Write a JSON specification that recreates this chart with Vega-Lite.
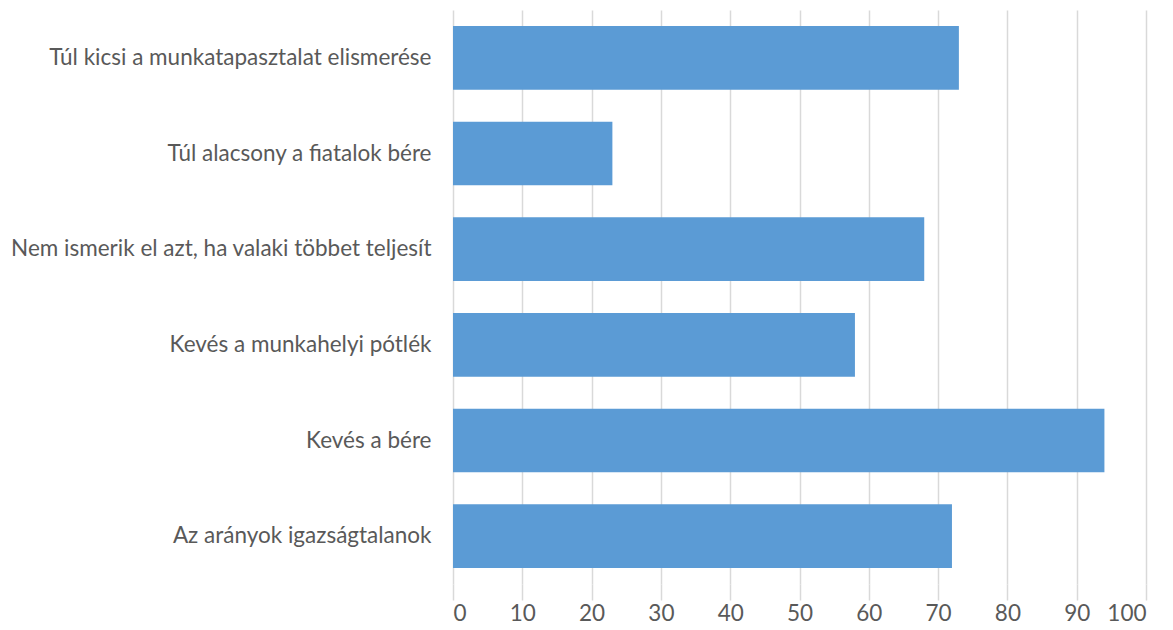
{
  "$schema": "https://vega.github.io/schema/vega-lite/v6.json",
  "width": 693,
  "height": 574,
  "padding": {"left": 453, "top": 10, "right": 27, "bottom": 46},
  "autosize": {"type": "none"},
  "background": "white",
  "config": {"view": {"stroke": null}, "font": "Lato"},
  "data": {"values": [
    {"kategoria": "Túl kicsi a munkatapasztalat elismerése", "ertek": 73},
    {"kategoria": "Túl alacsony a fiatalok bére", "ertek": 23},
    {"kategoria": "Nem ismerik el azt, ha valaki többet teljesít", "ertek": 68},
    {"kategoria": "Kevés a munkahelyi pótlék", "ertek": 58},
    {"kategoria": "Kevés a bére", "ertek": 94},
    {"kategoria": "Az arányok igazságtalanok", "ertek": 72}
  ]},
  "mark": {"type": "bar", "color": "#5B9BD5"},
  "encoding": {
    "y": {
      "field": "kategoria", "type": "nominal", "sort": null,
      "scale": {"paddingInner": 0.335, "paddingOuter": 0.1675},
      "axis": {"title": null, "ticks": false, "domain": false, "labelPadding": 22,
               "labelFontSize": 22.5, "labelColor": "#595959", "labelLimit": 0, "labelFont": "Lato"}
    },
    "x": {
      "field": "ertek", "type": "quantitative",
      "scale": {"domain": [0, 100], "nice": false},
      "axis": {"title": null, "values": [0,10,20,30,40,50,60,70,80,90,100], "domain": false,
               "grid": true, "gridColor": "#d9d9d9", "gridWidth": 1.5,
               "tickColor": "#d9d9d9", "tickSize": 16, "tickWidth": 1.5,
               "labelPadding": 2, "labelFontSize": 22.5, "labelColor": "#595959", "labelFont": "Lato"}
    }
  }
}
